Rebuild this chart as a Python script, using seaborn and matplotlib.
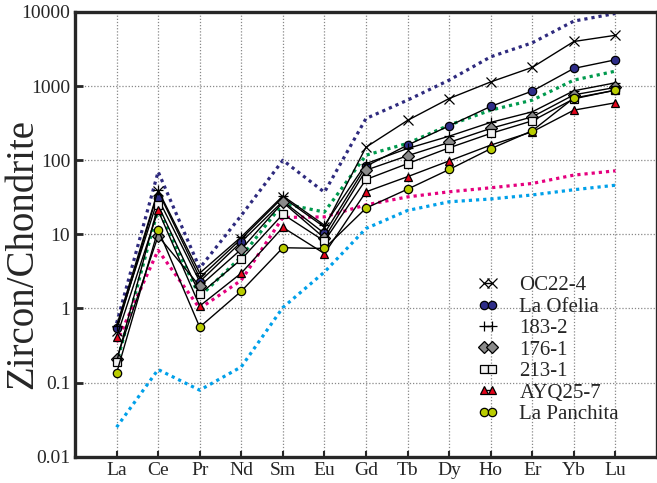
import numpy as np
import pandas as pd
import seaborn as sns
import matplotlib.pyplot as plt
from matplotlib.ticker import FixedLocator, NullLocator

elementos = ['La', 'Ce', 'Pr', 'Nd', 'Sm', 'Eu', 'Gd', 'Tb', 'Dy', 'Ho', 'Er', 'Yb', 'Lu']

# muestras (zircon / condrita)
oc22_4 = [0.5, 38, 2.6, 8.7, 31.5, 12.5, 150, 345, 680, 1140, 1790, 4000, 4850]
la_ofelia = [0.55, 30.5, 2.3, 7.9, 28, 10.3, 83, 160, 291, 532, 857, 1734, 2265]
m183_2 = [0.58, 39.5, 3.0, 9.25, 33, 13.3, 90, 144, 211, 324, 450, 865, 1108]
m176_1 = [0.21, 9.5, 2.0, 6.3, 27, 8.9, 73.5, 115, 174, 269, 385, 763, 960]
m213_1 = [0.19, 24.8, 1.56, 4.6, 18.7, 8.1, 55, 90, 147, 230, 340, 674, 883]
ayq25_7 = [0.41, 21, 1.08, 3.0, 12.4, 5.5, 37.5, 60, 98, 160, 242, 474, 596]
la_panchita = [0.134, 11.6, 0.56, 1.71, 6.6, 6.45, 22.6, 40.7, 75, 143, 250, 690, 880]

# curvas de referencia (punteadas)
ref_azul_osc = [0.63, 70, 3.5, 18, 100, 37, 366, 647, 1205, 2485, 3840, 7540, 9550]
ref_verde = [0.18, 22, 1.44, 5.0, 26, 20, 117, 169, 298, 474, 647, 1205, 1592]
ref_rosa = [0.35, 6.1, 1.0, 2.4, 16.9, 17.2, 25, 32, 37.5, 42.5, 48.6, 63, 72]
ref_celeste = [0.025, 0.15, 0.079, 0.163, 1.03, 3.1, 12, 21, 27.5, 30, 34, 40, 46]

muestras = [
    ('OC22-4', oc22_4, 'x', 'black'),
    ('La Ofelia', la_ofelia, 'o', '#2e2d88'),
    ('183-2', m183_2, '+', 'black'),
    ('176-1', m176_1, 'D', '#8a8a8a'),
    ('213-1', m213_1, 's', '#f2f2f2'),
    ('AYQ25-7', ayq25_7, '^', '#e3051b'),
    ('La Panchita', la_panchita, 'o', '#b9cc00'),
]
referencias = [
    (ref_azul_osc, '#2e2a7e'),
    (ref_verde, '#009a4e'),
    (ref_rosa, '#e5007e'),
    (ref_celeste, '#00a0e9'),
]

sns.set_style('ticks')
plt.rcParams['font.family'] = ['Liberation Serif', 'DejaVu Serif']
plt.rcParams['mathtext.fontset'] = 'stix'

fig = plt.figure(figsize=(6.57, 4.83), dpi=100)
ax = fig.add_axes([75 / 657, 26.3 / 483, 582 / 657, 444.7 / 483])

pos = np.arange(len(elementos))

for valores, color in referencias:
    sns.lineplot(x=pos, y=valores, ax=ax, color=color, lw=2.3,
                 linestyle=(0, (1, 1.25)), sort=False, zorder=2)

for nombre, valores, marcador, color in muestras:
    ms = 7 if marcador in ('x', '+') else 6
    sns.lineplot(x=pos, y=valores, ax=ax, color='black', lw=1.0,
                 marker=marcador, markersize=ms, markerfacecolor=color,
                 markeredgecolor='black', markeredgewidth=0.9,
                 sort=False, label=nombre, zorder=3)

ax.set_yscale('log')
ax.set_ylim(0.01, 10000)
ax.set_xlim(-1, 13)
ax.yaxis.set_major_locator(FixedLocator([0.01, 0.1, 1, 10, 100, 1000, 10000]))
ax.yaxis.set_minor_locator(NullLocator())
ax.set_yticklabels(['0.01', '0.1', '1', '10', '100', '1000', '10000'])
ax.set_xticks(pos)
ax.set_xticklabels(elementos)

ax.grid(True, color='#888888', linestyle=(0, (1, 1.5)), linewidth=0.9)
ax.tick_params(axis='both', direction='in', labelsize=14, width=1.5, length=4)
ax.tick_params(axis='y', length=6, width=2)

for lado in ['top', 'left', 'bottom', 'right']:
    ax.spines[lado].set_linewidth(2.4)

ax.set_xlabel('')
ax.set_ylabel('Zircon/Chondrite', fontsize=28)
ax.yaxis.set_label_coords(-0.058, 0.455)

ax.legend(loc='center left', bbox_to_anchor=(0.692, 0.24), frameon=False,
          fontsize=15, numpoints=2, handlelength=1.0, handletextpad=1.0,
          labelspacing=0.09, borderpad=0, borderaxespad=0)

fig.savefig('out.png', dpi=100)
